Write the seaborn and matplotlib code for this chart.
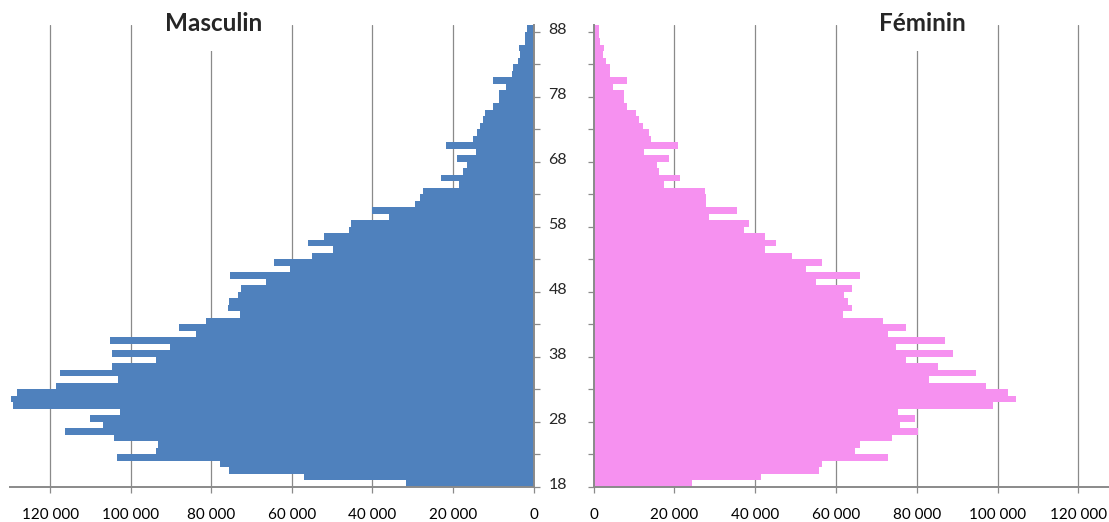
import numpy as np
import pandas as pd
import matplotlib
matplotlib.use("Agg")
import matplotlib.pyplot as plt
from matplotlib.ticker import FuncFormatter, FixedLocator
import seaborn as sns

# Age groups, bottom to top
ages = list(range(18, 89))

# Men per single year of age (18 .. 88)
male = [31700, 56900, 75700, 77900, 103400, 93700, 93300, 104200, 116400, 106800,
        110200, 102600, 129300, 129800, 128300, 118600, 103200, 117700, 104700, 93700,
        104700, 90300, 105100, 83800, 88000, 81400, 73000, 75900, 75600, 73400,
        72700, 66500, 75300, 60500, 64400, 54900, 49900, 55900, 52100, 45800,
        45200, 36000, 40200, 29400, 28100, 27500, 18400, 22900, 17500, 16400,
        19100, 14400, 21800, 14900, 14000, 13400, 12500, 12100, 10100, 8600,
        8600, 6900, 10100, 5400, 5000, 3900, 3300, 3600, 2200, 2000, 1600]

# Women per single year of age (18 .. 88)
female = [24300, 41500, 55900, 56600, 72800, 64800, 66000, 73800, 80200, 75800,
          79500, 75400, 99000, 104700, 102600, 97100, 83000, 94800, 85300, 77400,
          89100, 74800, 86900, 72800, 77400, 71600, 61700, 64000, 62900, 62000,
          64000, 55000, 65900, 52700, 56600, 49200, 42500, 45200, 42500, 37300,
          38400, 28700, 35500, 27900, 27900, 27500, 17400, 21400, 16100, 15800,
          18600, 12600, 20900, 14200, 13800, 12300, 11300, 10500, 8300, 7500,
          7500, 4800, 8300, 4000, 4000, 3200, 2300, 2700, 1700, 1400, 1300]

x_ticks = [0, 20000, 40000, 60000, 80000, 100000, 120000]
age_labels = [18, 28, 38, 48, 58, 68, 78, 88]
titles = ["Masculin", "Féminin"]

df = pd.DataFrame({"age": ages, "male": male, "female": female})

sns.set_style("white")
plt.rcParams["font.family"] = ["Lato", "DejaVu Sans"]

BLUE = "#4F81BD"
PINK = "#F691F0"
GRID = "#8A8A8A"

fig = plt.figure(figsize=(11.09, 5.22), dpi=100)
W, H = 1109, 522
ax_l = fig.add_axes([10 / W, (H - 486.7) / H, 523.5 / W, (486.7 - 25) / H])
ax_r = fig.add_axes([593.5 / W, (H - 486.7) / H, (W - 593.5) / W, (486.7 - 25) / H])

sns.barplot(data=df, x="male", y="age", orient="h", native_scale=True, width=1.0,
            color=BLUE, saturation=1, linewidth=0, ax=ax_l, zorder=2)
sns.barplot(data=df, x="female", y="age", orient="h", native_scale=True, width=1.0,
            color=PINK, saturation=1, linewidth=0, ax=ax_r, zorder=2)

ax_l.set_xlim(130000, 0)
ax_r.set_xlim(0, (W - 593.5) / 80.8 * 20000)

fmt = FuncFormatter(lambda v, p: f"{int(v):,}".replace(",", " "))

for ax in (ax_l, ax_r):
    ax.set_ylim(17.5, 88.5)
    ax.set_xlabel("")
    ax.set_ylabel("")
    ax.set_xticks(x_ticks)
    ax.xaxis.set_major_formatter(fmt)
    for v in x_ticks[1:]:
        ax.axvline(v, color=GRID, lw=0.9, zorder=1)
    ax.tick_params(axis="x", direction="out", length=4, width=0.9, color=GRID,
                   bottom=True, labelsize=11, pad=11, labelcolor="black")
    # tick marks sit on category boundaries every five years
    ax.yaxis.set_major_locator(FixedLocator(np.arange(17.5, 89, 5)))
    ax.yaxis.set_minor_locator(FixedLocator(age_labels))
    for s in ("top", "left", "right", "bottom"):
        ax.spines[s].set_visible(False)
    ax.spines["bottom"].set_visible(True)
    ax.spines["bottom"].set_color(GRID)
    ax.spines["bottom"].set_linewidth(1.4)
    ax.set_facecolor("none")

# Left panel: vertical axis on its right side, no labels
ax_l.spines["right"].set_visible(True)
ax_l.spines["right"].set_color(GRID)
ax_l.spines["right"].set_linewidth(1.4)
ax_l.yaxis.set_ticks_position("right")
ax_l.tick_params(axis="y", which="major", direction="out", length=4, width=0.9,
                 color=GRID, right=True, left=False, labelright=False, labelleft=False)
ax_l.tick_params(axis="y", which="minor", length=0, labelright=False, labelleft=False)

# Right panel: vertical axis on its left side, carrying the age labels
ax_r.spines["left"].set_visible(True)
ax_r.spines["left"].set_color(GRID)
ax_r.spines["left"].set_linewidth(1.4)
ax_r.yaxis.set_ticks_position("left")
ax_r.tick_params(axis="y", which="major", direction="out", length=4, width=0.9,
                 color=GRID, left=True, labelleft=False)
ax_r.set_yticks(age_labels, [str(a) for a in age_labels], minor=True)
ax_r.tick_params(axis="y", which="minor", length=0, labelleft=True, labelsize=11.5,
                 pad=19)

# Panel titles on a white box that hides the gridline behind them
for label, xc in zip(titles, (214, 922)):
    fig.text(xc / W, 1 - 24 / H, label, ha="center", va="center",
             fontsize=17.5, fontweight="bold", zorder=5,
             bbox=dict(facecolor="white", edgecolor="none", pad=11))

fig.savefig("out.png", dpi=100, facecolor="white")
